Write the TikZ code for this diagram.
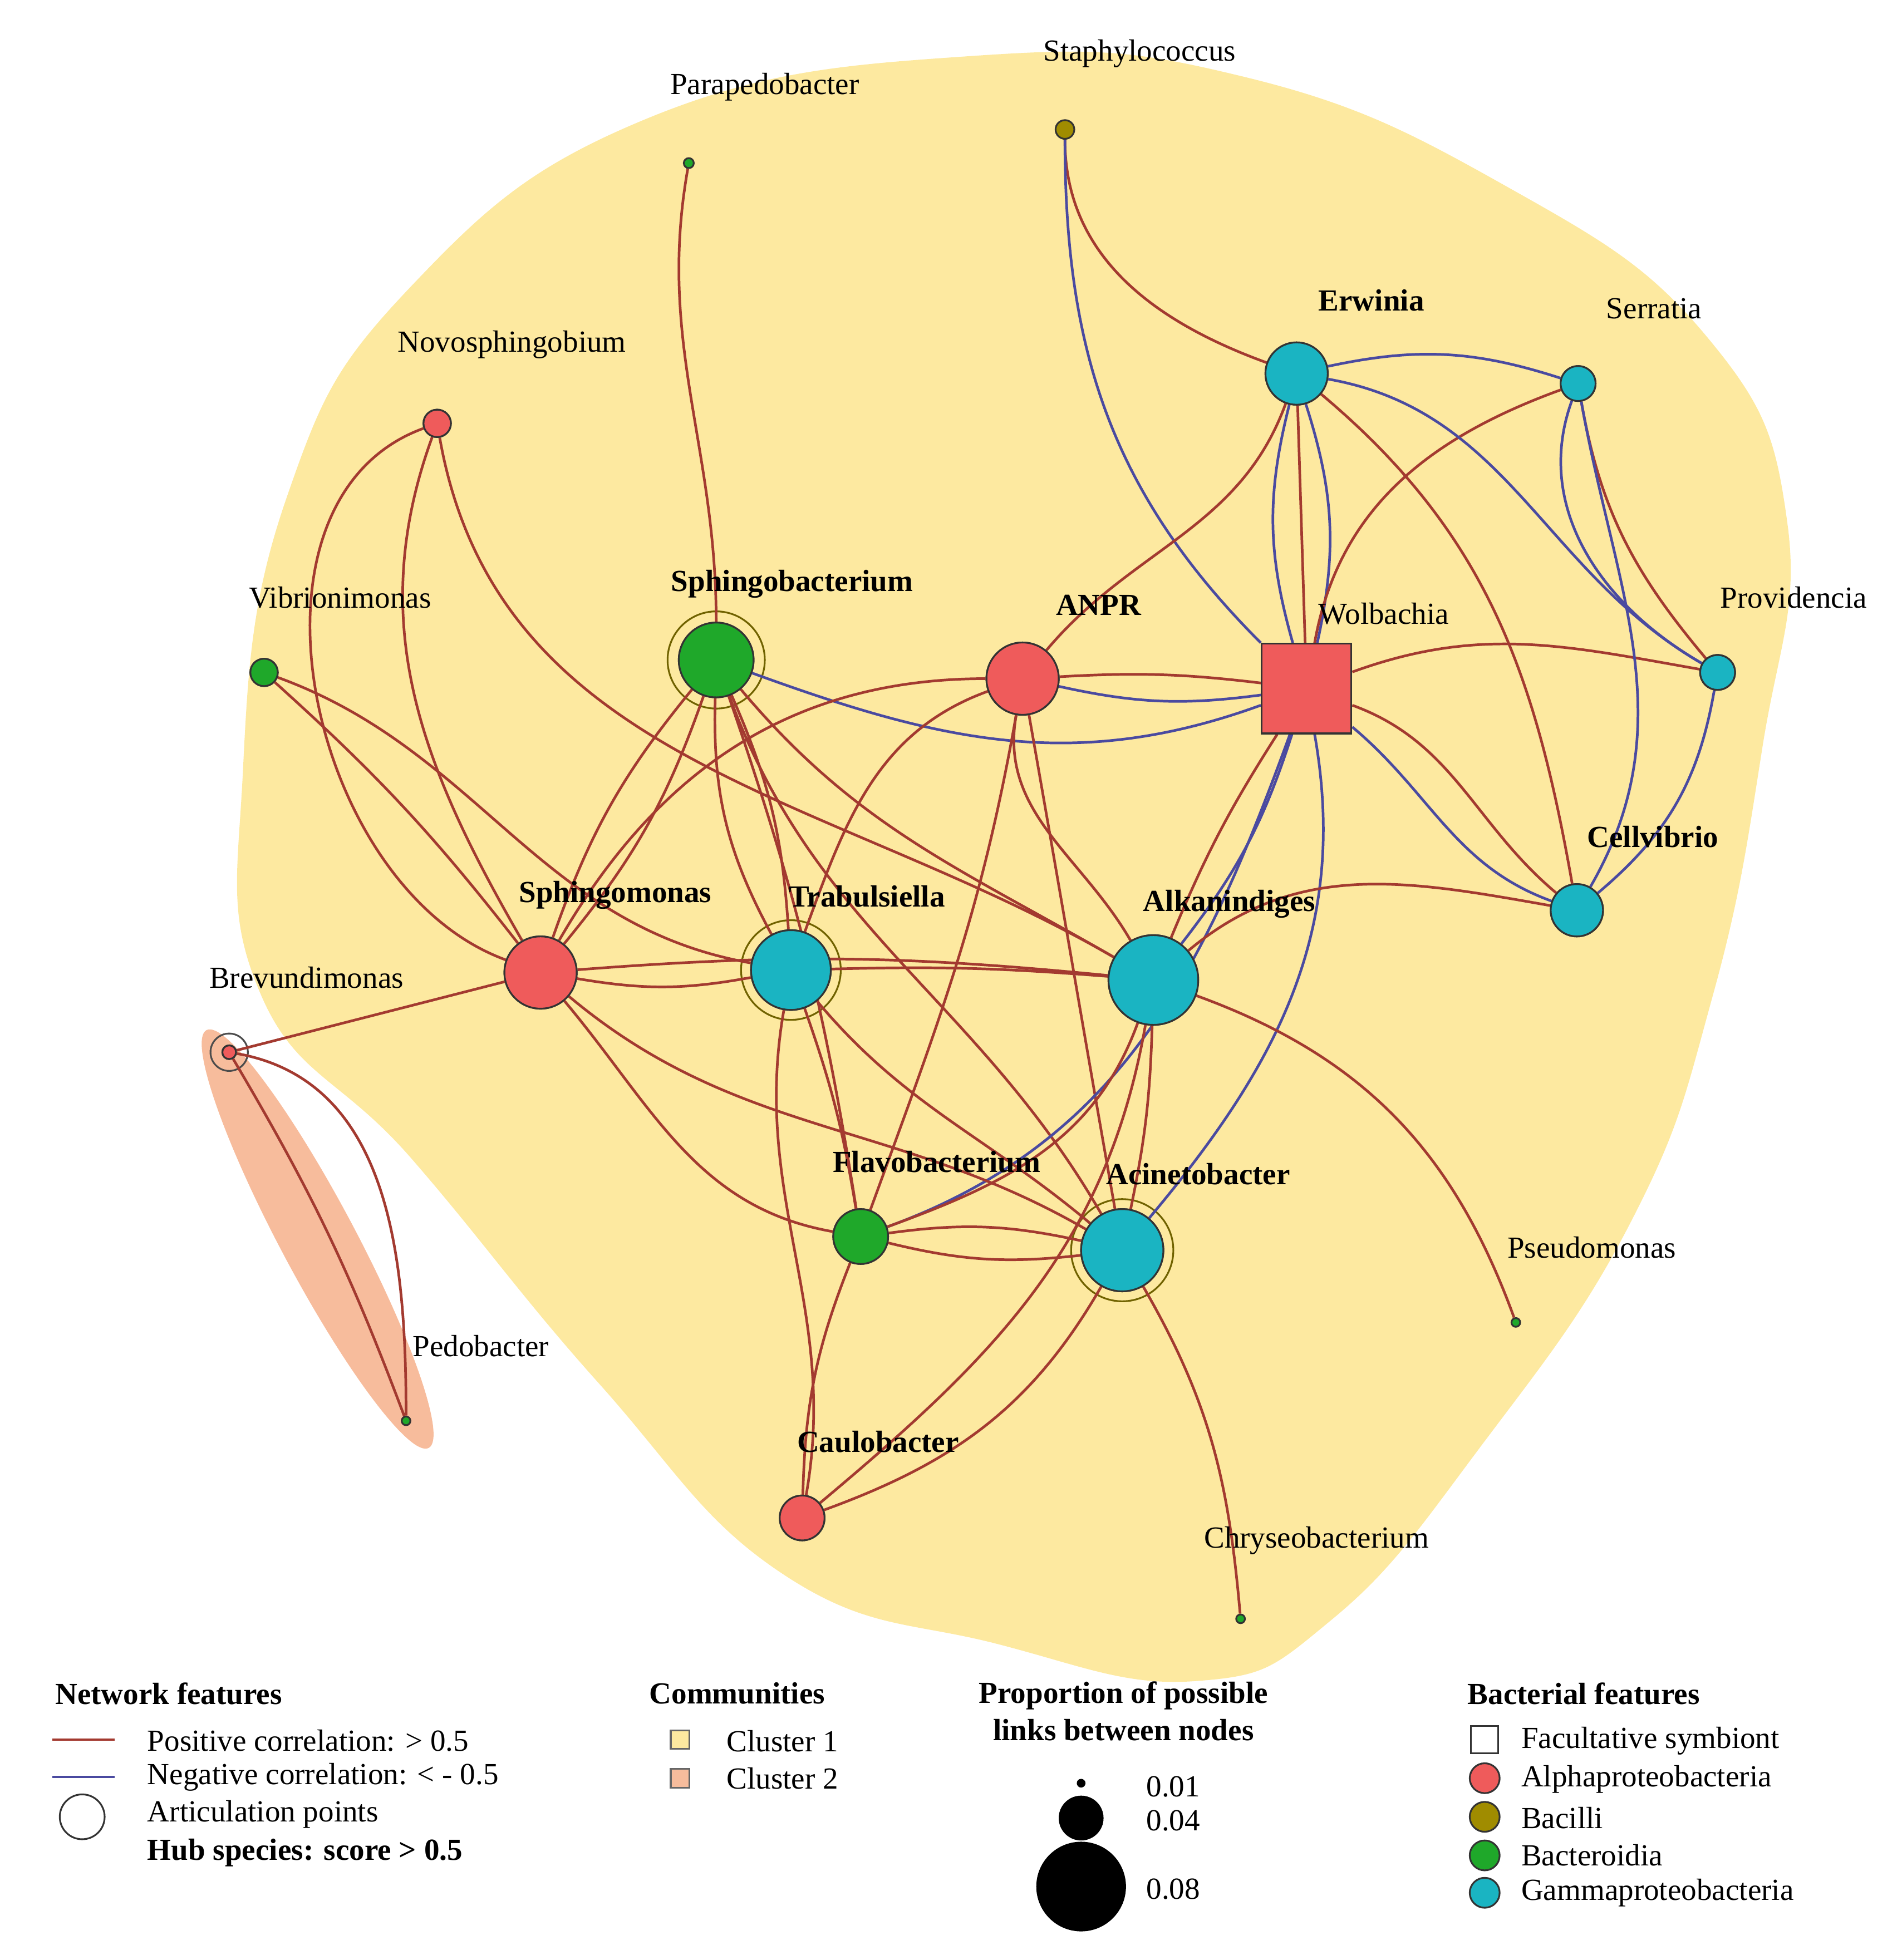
\documentclass[tikz,border=0pt]{standalone}
\usepackage{fontspec}
\setmainfont{Liberation Serif}
\usetikzlibrary{shapes.geometric}
\definecolor{alp}{HTML}{EF5B5B}
\definecolor{gam}{HTML}{1AB4C2}
\definecolor{bac}{HTML}{1FA82A}
\definecolor{bcl}{HTML}{A08C00}
\definecolor{cl1}{HTML}{FDE9A0}
\definecolor{cl2}{HTML}{F7BC9C}
\definecolor{pos}{HTML}{A33A30}
\definecolor{neg}{HTML}{4A4AA0}
\begin{document}
\begin{tikzpicture}[x=0.01cm,y=-0.01cm,
 nd/.style={circle,draw=black!80,line width=0.4pt,inner sep=0pt},
 lab/.style={font=\fontsize{7}{8.5}\selectfont},
 blab/.style={font=\fontsize{7}{8.5}\selectfont\bfseries},
 p/.style={draw=pos,line width=0.6pt},
 n/.style={draw=neg,line width=0.6pt},
 ring/.style={circle,draw=bcl!70!black,line width=0.4pt,inner sep=0pt}]
\useasboundingbox (0,0) rectangle (1527,1574);
% clusters
\fill[cl1] plot[smooth cycle,tension=0.75] coordinates{(780,45) (1000,62) (1210,150) (1370,270) (1435,420) (1415,600) (1375,800) (1310,980) (1190,1160) (1070,1300) (960,1350) (800,1320) (630,1265) (480,1110) (330,930) (210,800) (195,620) (230,400) (330,230) (520,95)};
\fill[cl2,rotate around={-62:(255,995)}] (255,995) ellipse (190 and 30);
% nodes
\node[nd,fill=bac,minimum size=0.08cm] (parap) at (553,131) {};
\node[nd,fill=bcl,minimum size=0.15cm] (staph) at (855,104) {};
\node[nd,fill=alp,minimum size=0.22cm] (novo) at (351,340) {};
\node[nd,fill=gam,minimum size=0.5cm] (erw) at (1041,300) {};
\node[nd,fill=gam,minimum size=0.28cm] (serr) at (1267,308) {};
\node[nd,fill=bac,minimum size=0.22cm] (vib) at (212,540) {};
\node[ring,minimum size=0.78cm] (sbr) at (575,530) {};
\node[nd,fill=bac,minimum size=0.6cm] (sbac) at (575,530) {};
\node[nd,fill=alp,minimum size=0.58cm] (anpr) at (821,545) {};
\node[rectangle,draw=black!80,fill=alp,minimum size=0.72cm,inner sep=0pt] (wol) at (1049,553) {};
\node[nd,fill=gam,minimum size=0.28cm] (prov) at (1379,540) {};
\node[nd,fill=gam,minimum size=0.42cm] (cell) at (1266,731) {};
\node[nd,fill=alp,minimum size=0.58cm] (smon) at (434,781) {};
\node[ring,minimum size=0.8cm] (trr) at (635,779) {};
\node[nd,fill=gam,minimum size=0.64cm] (trab) at (635,779) {};
\node[nd,fill=gam,minimum size=0.72cm] (alk) at (926,787) {};
\node[circle,draw=black!70,minimum size=0.3cm,inner sep=0pt] (brr) at (184,845) {};
\node[nd,fill=alp,minimum size=0.11cm] (brev) at (184,845) {};
\node[nd,fill=bac,minimum size=0.07cm] (pedo) at (326,1141) {};
\node[nd,fill=bac,minimum size=0.44cm] (flav) at (691,993) {};
\node[ring,minimum size=0.82cm] (acr) at (901,1004) {};
\node[nd,fill=gam,minimum size=0.66cm] (acin) at (901,1004) {};
\node[nd,fill=bac,minimum size=0.07cm] (pseu) at (1217,1062) {};
\node[nd,fill=alp,minimum size=0.36cm] (caul) at (644,1219) {};
\node[nd,fill=bac,minimum size=0.07cm] (chry) at (996,1300) {};
% edges
\path[p] (parap) to[out=-100,in=90] (sbac);
\path[p] (staph) to[out=-90,in=160] (erw);
\path[n] (staph) to[out=-90,in=135] (wol);
\path[p] (novo) to[out=200,in=160] (smon);
\path[p] (novo) to[out=-110,in=120] (smon);
\path[p] (novo) to[out=-80,in=150] (alk);
\path[p] (vib) to[bend left=5] (smon);
\path[p] (vib) to[out=-20,in=170] (trab);
\path[p] (sbac) to[bend right=10] (smon);
\path[p] (sbac) to[bend left=10] (smon);
\path[p] (sbac) to[bend right=15] (trab);
\path[p] (sbac) to[bend left=10] (trab);
\path[p] (sbac) to[out=-50,in=150] (alk);
\path[p] (sbac) to[bend left=5] (flav);
\path[p] (sbac) to[out=-70,in=120] (acin);
\path[n] (sbac) to[out=-20,in=200] (wol);
\path[p] (anpr) to[out=50,in=-110] (erw);
\path[p] (anpr) to[bend left=5] (wol);
\path[n] (anpr) to[bend right=10] (wol);
\path[p] (anpr) to[out=180,in=60] (smon);
\path[p] (anpr) to[out=200,in=70] (trab);
\path[p] (anpr) to[out=-100,in=120] (alk);
\path[p] (anpr) to[out=-80,in=100] (acin);
\path[p] (anpr) to[out=-100,in=70] (flav);
\path[n] (wol) to[bend left=15] (erw);
\path[n] (wol) to[bend right=15] (erw);
\path[p] (wol) to (erw);
\path[p] (wol) to[out=80,in=200] (serr);
\path[p] (wol) to[out=20,in=170] (prov);
\path[p] (wol) to[out=-20,in=140] (cell);
\path[n] (wol) to[out=-40,in=160] (cell);
\path[n] (wol) to[bend left=10] (alk);
\path[p] (wol) to[bend right=5] (alk);
\path[n] (wol) to[out=-80,in=50] (acin);
\path[n] (wol) to[out=-110,in=20] (flav);
\path[n] (erw) to[bend left=15] (serr);
\path[n] (erw) to[out=-10,in=150] (prov);
\path[p] (erw) to[out=-40,in=100] (cell);
\path[p] (serr) to[out=-80,in=130] (prov);
\path[n] (serr) to[out=-110,in=150] (prov);
\path[n] (serr) to[out=-80,in=60] (cell);
\path[n] (prov) to[bend left=20] (cell);
\path[p] (cell) to[out=170,in=40] (alk);
\path[p] (smon) to (brev);
\path[p] (smon) to[bend right=10] (trab);
\path[p] (smon) to[bend left=5] (alk);
\path[p] (smon) to[out=-50,in=170] (flav);
\path[p] (smon) to[out=-40,in=150] (acin);
\path[p] (trab) to[bend left=3] (alk);
\path[p] (trab) to[bend left=5] (flav);
\path[p] (trab) to[out=-50,in=140] (acin);
\path[p] (trab) to[out=-100,in=80] (caul);
\path[p] (alk) to[out=-110,in=20] (flav);
\path[p] (alk) to[bend left=5] (acin);
\path[p] (alk) to[out=-20,in=110] (pseu);
\path[p] (alk) to[out=-100,in=40] (caul);
\path[p] (flav) to[bend left=10] (acin);
\path[p] (flav) to[bend right=10] (acin);
\path[p] (flav) to[bend right=10] (caul);
\path[p] (acin) to[out=-120,in=20] (caul);
\path[p] (acin) to[out=-60,in=95] (chry);
\path[p] (brev) to[bend left=5] (pedo);
\path[p] (brev) to[out=-10,in=90] (pedo);
% redraw nodes on top
\node[nd,fill=bac,minimum size=0.6cm] at (575,530) {};
\node[nd,fill=alp,minimum size=0.58cm] at (821,545) {};
\node[rectangle,draw=black!80,fill=alp,minimum size=0.72cm,inner sep=0pt] at (1049,553) {};
\node[nd,fill=gam,minimum size=0.5cm] at (1041,300) {};
\node[nd,fill=gam,minimum size=0.28cm] at (1267,308) {};
\node[nd,fill=gam,minimum size=0.28cm] at (1379,540) {};
\node[nd,fill=gam,minimum size=0.42cm] at (1266,731) {};
\node[nd,fill=alp,minimum size=0.58cm] at (434,781) {};
\node[nd,fill=gam,minimum size=0.64cm] at (635,779) {};
\node[nd,fill=gam,minimum size=0.72cm] at (926,787) {};
\node[nd,fill=bac,minimum size=0.44cm] at (691,993) {};
\node[nd,fill=gam,minimum size=0.66cm] at (901,1004) {};
\node[nd,fill=alp,minimum size=0.36cm] at (644,1219) {};
\node[nd,fill=alp,minimum size=0.22cm] at (351,340) {};
\node[nd,fill=bac,minimum size=0.22cm] at (212,540) {};
\node[nd,fill=alp,minimum size=0.11cm] at (184,845) {};
% labels
\node[lab] (l1) at (614,70) {Parapedobacter};
\node[lab] (l2) at (915,43) {Staphylococcus};
\node[lab] (l3) at (411,277) {Novosphingobium};
\node[blab] (l4) at (1101,241) {Erwinia};
\node[lab] (l5) at (1328,248) {Serratia};
\node[lab] (l6) at (273,480) {Vibrionimonas};
\node[blab] (l7) at (636,469) {Sphingobacterium};
\node[blab] (l8) at (882,486) {ANPR};
\node[lab] (l9) at (1111,493) {Wolbachia};
\node[lab] (l10) at (1440,480) {Providencia};
\node[blab] (l11) at (1327,672) {Cellvibrio};
\node[blab] (l12) at (494,719) {Sphingomonas};
\node[blab] (l13) at (696,720) {Trabulsiella};
\node[blab] (l14) at (987,726) {Alkanindiges};
\node[lab] (l15) at (246,785) {Brevundimonas};
\node[lab] (l16) at (386,1081) {Pedobacter};
\node[blab] (l17) at (752,933) {Flavobacterium};
\node[blab] (l18) at (962,943) {Acinetobacter};
\node[lab] (l19) at (1278,1002) {Pseudomonas};
\node[blab] (l20) at (705,1158) {Caulobacter};
\node[lab] (l21) at (1057,1237) {Chryseobacterium};
% legend
\node[blab,anchor=west] (g1) at (32,1360) {Network features};
\coordinate (pa) at (42,1397); \coordinate (pb) at (92,1397);
\draw[p] (pa) -- (pb);
\node[lab,anchor=west] (g2) at (106,1398) {Positive correlation: > 0.5};
\coordinate (na) at (42,1427); \coordinate (nb) at (92,1427);
\draw[n] (na) -- (nb);
\node[lab,anchor=west] (g3) at (106,1427) {Negative correlation: < - 0.5};
\node[circle,draw=black!80,minimum size=0.36cm,inner sep=0pt] (gc) at (66,1459) {};
\node[lab,anchor=west] (g4) at (106,1457) {Articulation points};
\node[blab,anchor=west] (g5) at (106,1488) {Hub species: score > 0.5};
\node[blab,anchor=west] (c0) at (509,1360) {Communities};
\node[draw=black!60,fill=cl1,minimum size=0.15cm,inner sep=0pt] (c1b) at (546,1397) {};
\node[lab,anchor=west] (c1) at (571,1398) {Cluster 1};
\node[draw=black!60,fill=cl2,minimum size=0.15cm,inner sep=0pt] (c2b) at (546,1428) {};
\node[lab,anchor=west] (c2) at (571,1428) {Cluster 2};
\node[blab,align=center] (s0) at (902,1374) {Proportion of possible\\links between nodes};
\fill (868,1432) circle (3.5); \node[lab,anchor=west] (s1) at (908,1435) {0.01};
\fill (868,1460) circle (18); \node[lab,anchor=west] (s2) at (908,1462) {0.04};
\fill (868,1515) circle (36); \node[lab,anchor=west] (s3) at (908,1517) {0.08};
\node[blab,anchor=west] (b0) at (1166,1360) {Bacterial features};
\node[draw=black!80,minimum size=0.22cm,inner sep=0pt] (bb1) at (1192,1397) {};
\node[lab,anchor=west] (b1) at (1209,1398) {Facultative symbiont};
\node[nd,fill=alp,minimum size=0.24cm] (bb2) at (1192,1428) {};
\node[lab,anchor=west] (b2) at (1209,1429) {Alphaproteobacteria};
\node[nd,fill=bcl,minimum size=0.24cm] (bb3) at (1192,1459) {};
\node[lab,anchor=west] (b3) at (1209,1460) {Bacilli};
\node[nd,fill=bac,minimum size=0.24cm] (bb4) at (1192,1490) {};
\node[lab,anchor=west] (b4) at (1209,1490) {Bacteroidia};
\node[nd,fill=gam,minimum size=0.24cm] (bb5) at (1192,1520) {};
\node[lab,anchor=west] (b5) at (1209,1520) {Gammaproteobacteria};
\end{tikzpicture}
\end{document}
